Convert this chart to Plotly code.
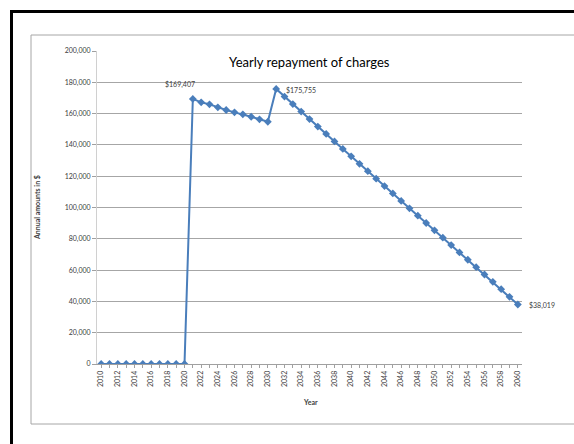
import plotly.graph_objects as go

# Years and yearly repayment amounts ($)
years = list(range(2010, 2061))
repayment = [
    0, 0, 0, 0, 0, 0, 0, 0, 0, 0, 0,                      # 2010-2020
    169407, 167200, 165900, 164000, 162300, 160800, 159550, 158000, 156350, 154800,  # 2021-2030
    175755, 170900, 166100, 161300, 156500, 151700, 147000, 142200, 137400, 132700,  # 2031-2040
    127900, 123200, 118400, 113700, 109000, 104200, 99500, 94800, 90100, 85400,      # 2041-2050
    80700, 76000, 71300, 66600, 61900, 57200, 52500, 47800, 42900, 38019,            # 2051-2060
]
labelled_years = [2021, 2031, 2060]
x_ticks = list(range(2010, 2061, 2))
y_ticks = list(range(0, 200001, 20000))

W, H = 574, 444
L, R, T, B = 97, 52, 51, 80
PW, PH = W - L - R, H - T - B


def px(xp):
    return (xp - L) / PW


def py(yp):
    return (H - B - yp) / PH


LINE_BLUE = "#4A7EBB"
TXT = "#404040"
FONT = "Lato, 'Open Sans', sans-serif"

fig = go.Figure()
fig.add_trace(go.Scatter(
    x=years, y=repayment, mode="lines+markers",
    line=dict(color=LINE_BLUE, width=2),
    marker=dict(symbol="diamond", size=6, color=LINE_BLUE),
    hoverinfo="x+y", showlegend=False,
))

# value labels on selected points
label_pos = {
    2021: dict(xanchor="right", xshift=4, yshift=14),
    2031: dict(xanchor="left", xshift=8, yshift=-2),
    2060: dict(xanchor="left", xshift=9, yshift=-1),
}
for yr in labelled_years:
    v = repayment[years.index(yr)]
    fig.add_annotation(
        x=yr, y=v, xref="x", yref="y", text=f"${v:,}", showarrow=False,
        yanchor="middle", font=dict(size=7, color=TXT, family=FONT),
        **label_pos[yr],
    )

# chart title and axis titles
fig.add_annotation(x=px(309), y=py(62), xref="paper", yref="paper",
                   text="Yearly repayment of charges", showarrow=False,
                   xanchor="center", yanchor="middle",
                   font=dict(size=13, color="#000000", family=FONT))
fig.add_annotation(x=px(310), y=py(402), xref="paper", yref="paper",
                   text="<b>Year</b>", showarrow=False,
                   xanchor="center", yanchor="middle",
                   font=dict(size=7, color=TXT, family=FONT))
fig.add_annotation(x=px(37), y=py(208), xref="paper", yref="paper",
                   text="<b>Annual amounts in $</b>", showarrow=False, textangle=-90,
                   xanchor="center", yanchor="middle",
                   font=dict(size=7, color=TXT, family=FONT))

# outer frames
fig.add_shape(type="rect", xref="paper", yref="paper",
              x0=px(31), y0=py(35), x1=px(575), y1=py(424),
              line=dict(color="#A6A6A6", width=1), layer="below")
fig.add_shape(type="rect", xref="paper", yref="paper",
              x0=px(11.5), y0=py(11.5), x1=px(600), y1=py(470),
              line=dict(color="#000000", width=3), layer="below")

fig.update_layout(
    width=W, height=H,
    margin=dict(l=L, r=R, t=T, b=B),
    paper_bgcolor="white", plot_bgcolor="white",
    font=dict(family=FONT, size=7, color=TXT),
    xaxis=dict(
        range=[2009.5, 2060.5], tickvals=x_ticks, ticktext=[str(t) for t in x_ticks],
        tickangle=-90, ticks="outside", ticklen=3, tickcolor="#A0A0A0",
        minor=dict(dtick=1, tick0=2010, ticks="outside", ticklen=3, tickcolor="#A0A0A0"),
        showgrid=False, zeroline=False, showline=True, linecolor="#A0A0A0", linewidth=1,
        tickfont=dict(size=7, color=TXT, family=FONT), fixedrange=True,
    ),
    yaxis=dict(
        range=[0, 200000], tickvals=y_ticks, tickformat=",",
        ticks="outside", ticklen=4, tickcolor="#A0A0A0",
        showgrid=True, gridcolor="#A6A6A6", gridwidth=1,
        zeroline=False, showline=True, linecolor="#D0D0D0", linewidth=1,
        tickfont=dict(size=7, color=TXT, family=FONT), fixedrange=True,
    ),
)

fig.write_html("out.html")
